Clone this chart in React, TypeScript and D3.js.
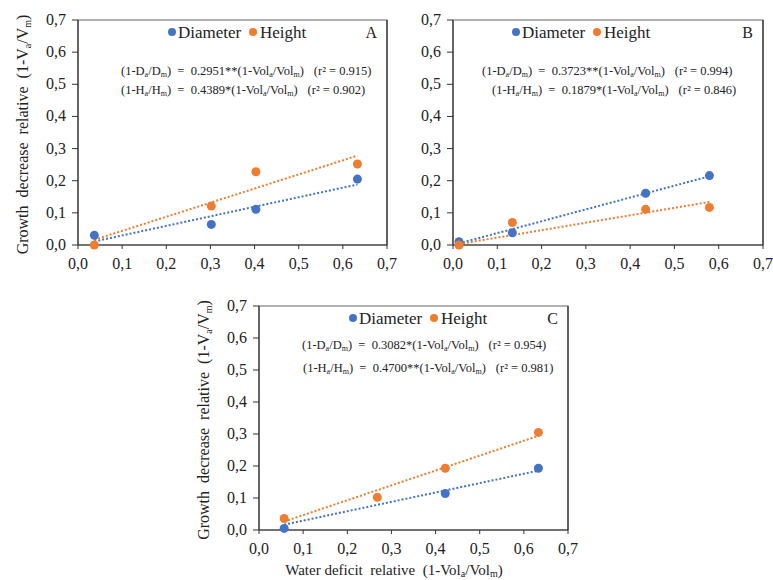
import React from "react";
import * as d3 from "d3";

// ---- Data ----
const panelNames = ["A", "B", "C"];

const xA = [0.037, 0.302, 0.403, 0.633];
const diamA = [0.03, 0.064, 0.111, 0.205];
const heightA = [0.0, 0.121, 0.228, 0.252];

const xB = [0.0135, 0.134, 0.435, 0.579];
const diamB = [0.01, 0.038, 0.161, 0.216];
const heightB = [0.0, 0.07, 0.111, 0.117];

const xCd = [0.057, 0.422, 0.633];
const diamC = [0.005, 0.114, 0.193];
const xCh = [0.057, 0.268, 0.422, 0.633];
const heightC = [0.036, 0.102, 0.193, 0.305];

const eqA = [
  { v: "D", coef: "0.2951**", r2: "0.915" },
  { v: "H", coef: "0.4389*", r2: "0.902" },
];
const eqB = [
  { v: "D", coef: "0.3723**", r2: "0.994" },
  { v: "H", coef: "0.1879*", r2: "0.846" },
];
const eqC = [
  { v: "D", coef: "0.3082*", r2: "0.954" },
  { v: "H", coef: "0.4700**", r2: "0.981" },
];

const ticks = [0, 0.1, 0.2, 0.3, 0.4, 0.5, 0.6, 0.7];
const seriesNames = ["Diameter", "Height"];
const colors = ["#4472C4", "#ED7D31"];

const FONT = "Times New Roman, Liberation Serif, DejaVu Serif, serif";
const fmt = (v: number) => d3.format(".1f")(v).replace(".", ",");

// least squares through the origin (Excel trendline with intercept = 0)
function slopeThroughOrigin(xs: number[], ys: number[]) {
  const sxy = d3.sum(xs, (x, i) => x * ys[i]);
  const sxx = d3.sum(xs, (x) => x * x);
  return sxy / sxx;
}

type Series = { xs: number[]; ys: number[] };

function Equation({ x, y, e }: { x: number; y: number; e: { v: string; coef: string; r2: string } }) {
  const s = 8;
  return (
    <text x={x} y={y} fontSize={12.5} fontFamily={FONT} fill="#222" xmlSpace="preserve">
      <tspan>(1-{e.v}</tspan>
      <tspan fontSize={s} dy={2}>a</tspan>
      <tspan dy={-2}>/{e.v}</tspan>
      <tspan fontSize={s} dy={2}>m</tspan>
      <tspan dy={-2}>)  =  {e.coef}(1-Vol</tspan>
      <tspan fontSize={s} dy={2}>a</tspan>
      <tspan dy={-2}>/Vol</tspan>
      <tspan fontSize={s} dy={2}>m</tspan>
      <tspan dy={-2}>)</tspan>
      <tspan dx={10}>(r² = {e.r2})</tspan>
    </text>
  );
}

function Panel({
  left, top, width, height, name, series, eqs, eqX, eqY, legendX, showYLabel, showXLabel,
}: {
  left: number; top: number; width: number; height: number; name: string;
  series: Series[]; eqs: any[]; eqX: number[]; eqY: number[]; legendX: number;
  showYLabel: boolean; showXLabel: boolean;
}) {
  const x = d3.scaleLinear().domain([0, 0.7]).range([left, left + width]);
  const y = d3.scaleLinear().domain([0, 0.7]).range([top + height, top]);
  return (
    <g>
      <rect x={left} y={top} width={width} height={height} fill="none" stroke="#666" strokeWidth={1} />
      <line x1={left + width} x2={left + width} y1={top} y2={top + height} stroke="#444" strokeWidth={1.5} />
      <line x1={left} x2={left} y1={top} y2={top + height} stroke="#333" strokeWidth={1.2} />
      <line x1={left} x2={left + width} y1={top + height} y2={top + height} stroke="#333" strokeWidth={1.2} />
      {ticks.map((t) => (
        <g key={"y" + t}>
          <line x1={left - 6} x2={left} y1={y(t)} y2={y(t)} stroke="#333" />
          <text x={left - 12} y={y(t) + 5} textAnchor="end" fontSize={16} fontFamily={FONT} fill="#222">{fmt(t)}</text>
        </g>
      ))}
      {ticks.map((t) => (
        <g key={"x" + t}>
          <line x1={x(t)} x2={x(t)} y1={top + height} y2={top + height + 4} stroke="#333" />
          <text x={x(t)} y={top + height + 24} textAnchor="middle" fontSize={16} fontFamily={FONT} fill="#222">{fmt(t)}</text>
        </g>
      ))}
      {series.map((s, i) => {
        const k = slopeThroughOrigin(s.xs, s.ys);
        const x0 = d3.min(s.xs)!;
        const x1 = d3.max(s.xs)!;
        return (
          <line key={"t" + i} x1={x(x0)} y1={y(k * x0)} x2={x(x1)} y2={y(k * x1)}
            stroke={colors[i]} strokeWidth={2} strokeDasharray="2,2" />
        );
      })}
      {series.map((s, i) =>
        s.xs.map((xv, j) => (
          <circle key={"p" + i + "-" + j} cx={x(xv)} cy={y(s.ys[j])} r={4.5} fill={colors[i]} />
        ))
      )}
      {/* legend */}
      <circle cx={legendX} cy={top + 12} r={4} fill={colors[0]} />
      <text x={legendX + 6} y={top + 18} fontSize={17} fontFamily={FONT} fill="#222">{seriesNames[0]}</text>
      <circle cx={legendX + 81} cy={top + 12} r={4} fill={colors[1]} />
      <text x={legendX + 88} y={top + 18} fontSize={17} fontFamily={FONT} fill="#222">{seriesNames[1]}</text>
      <text x={left + width - 10} y={top + 18} textAnchor="end" fontSize={16} fontFamily={FONT} fill="#222">{name}</text>
      {eqs.map((e, i) => (
        <Equation key={"e" + i} x={eqX[i]} y={eqY[i]} e={e} />
      ))}
      {showYLabel && (
        <text transform={`translate(${left - 50},${top + height / 2 + 2}) rotate(-90)`} textAnchor="middle"
          fontSize={16} fontFamily={FONT} fill="#222" xmlSpace="preserve">
          <tspan>Growth  decrease  relative  (1-V</tspan>
          <tspan fontSize={10} dy={3}>a</tspan>
          <tspan dy={-3}>/V</tspan>
          <tspan fontSize={10} dy={3}>m</tspan>
          <tspan dy={-3}>)</tspan>
        </text>
      )}
      {showXLabel && (
        <text x={394} y={top + height + 45} textAnchor="middle" fontSize={15} fontFamily={FONT} fill="#222" xmlSpace="preserve">
          <tspan>Water deficit  relative  (1-Vol</tspan>
          <tspan fontSize={10} dy={2}>a</tspan>
          <tspan dy={-2}>/Vol</tspan>
          <tspan fontSize={10} dy={2}>m</tspan>
          <tspan dy={-2}>)</tspan>
        </text>
      )}
    </g>
  );
}

export default function App() {
  return (
    <svg width={773} height={580} style={{ position: "absolute", left: 0, top: 0, background: "#fff" }}>
      <rect width={773} height={580} fill="#fff" />
      <Panel left={78} top={20} width={309} height={225} name={panelNames[0]}
        series={[{ xs: xA, ys: diamA }, { xs: xA, ys: heightA }]} eqs={eqA}
        eqX={[121, 121]} eqY={[75, 94]} legendX={172} showYLabel={true} showXLabel={false} />
      <Panel left={453} top={20} width={310} height={225} name={panelNames[1]}
        series={[{ xs: xB, ys: diamB }, { xs: xB, ys: heightB }]} eqs={eqB}
        eqX={[482, 492]} eqY={[75, 94]} legendX={516} showYLabel={false} showXLabel={false} />
      <Panel left={259} top={306} width={309} height={224} name={panelNames[2]}
        series={[{ xs: xCd, ys: diamC }, { xs: xCh, ys: heightC }]} eqs={eqC}
        eqX={[302, 303]} eqY={[349, 372]} legendX={353} showYLabel={true} showXLabel={true} />
    </svg>
  );
}
